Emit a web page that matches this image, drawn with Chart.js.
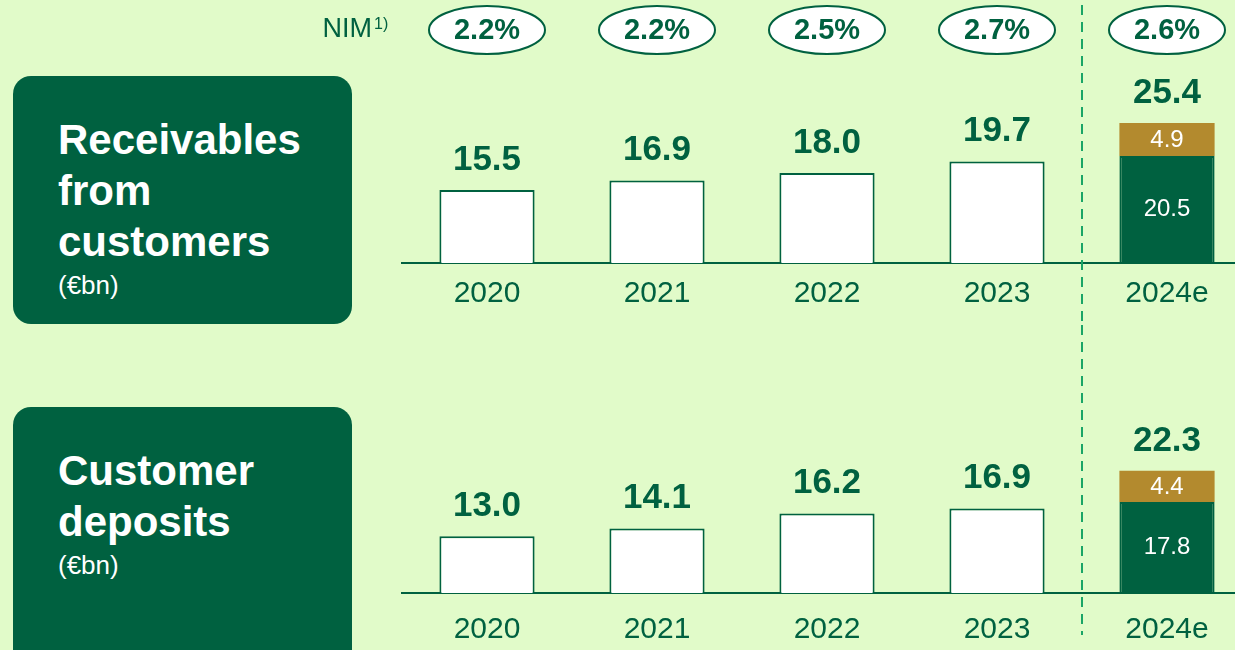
<!DOCTYPE html>
<html lang="en">
<head>
<meta charset="UTF-8">
<title>Receivables and deposits</title>
<script src="https://cdn.jsdelivr.net/npm/chart.js"></script>
<style>
  html, body { margin: 0; padding: 0; }
  body {
    width: 1235px; height: 650px; overflow: hidden; position: relative;
    background: #e1fbc9;
    font-family: "Liberation Sans", Arial, sans-serif;
  }
  .box {
    position: absolute; left: 13px; width: 294px;
    background: #006140; color: #fff; border-radius: 18px;
    padding: 38px 0 0 45px; box-sizing: content-box;
  }
  .box .title { font-weight: bold; font-size: 42px; line-height: 51px; }
  .box .unit { font-size: 26px; line-height: 36px; }
  #boxTop { top: 76px; height: 210px; }
  #boxBottom { top: 407px; height: 230px; }
  canvas { position: absolute; left: 300px; }
  #topChart { top: 0; }
  #bottomChart { top: 325px; }
</style>
</head>
<body>
  <div class="box" id="boxTop">
    <div class="title">Receivables<br>from<br>customers</div>
    <div class="unit">(€bn)</div>
  </div>
  <div class="box" id="boxBottom">
    <div class="title">Customer<br>deposits</div>
    <div class="unit">(€bn)</div>
  </div>

  <canvas id="topChart" width="952" height="325"></canvas>
  <canvas id="bottomChart" width="952" height="345"></canvas>

<script>
const years = ['2020', '2021', '2022', '2023', '2024e'];
const nim = ['2.2%', '2.2%', '2.5%', '2.7%', '2.6%'];

const recvBase = [15.5, 16.9, 18.0, 19.7, 20.5];
const recvExtra = [null, null, null, null, 4.9];
const recvTotals = [15.5, 16.9, 18.0, 19.7, 25.4];

const depBase = [13.0, 14.1, 16.2, 16.9, 17.8];
const depExtra = [null, null, null, null, 4.4];
const depTotals = [13.0, 14.1, 16.2, 16.9, 22.3];

const DARK = '#006140';
const GOLD = '#b38a2e';
const DASH = '#1aa566';
const FONT = '"Liberation Sans", Arial, sans-serif';

// value labels above bars + white labels inside the 2024e stack
const valueLabels = {
    id: 'valueLabels',
    afterDatasetsDraw(chart, args, opts) {
        const ctx = chart.ctx;
        const base = chart.getDatasetMeta(0).data;
        const add = chart.getDatasetMeta(1).data;
        const bottom = chart.chartArea.bottom;
        ctx.save();
        ctx.textAlign = 'center';
        ctx.textBaseline = 'middle';
        opts.totals.forEach((t, i) => {
            const hasExtra = opts.extra[i] != null;
            const top = hasExtra ? add[i].y : base[i].y;
            ctx.font = 'bold 35px ' + FONT;
            ctx.fillStyle = DARK;
            ctx.fillText(t.toFixed(1), base[i].x, top - 30);
            if (hasExtra) {
                ctx.font = '24px ' + FONT;
                ctx.fillStyle = '#fff';
                const b = Math.min(base[i].base, bottom);
                ctx.fillText(opts.base[i].toFixed(1), base[i].x, (base[i].y + b) / 2);
                ctx.fillText(opts.extra[i].toFixed(1), add[i].x, (add[i].y + add[i].base) / 2 + 1);
            }
        });
        ctx.restore();
    }
};

// dashed separator between actuals and estimate
const separator = {
    id: 'separator',
    beforeDatasetsDraw(chart, args, opts) {
        const ctx = chart.ctx;
        const xs = chart.scales.x;
        const x = (xs.getPixelForValue(3) + xs.getPixelForValue(4)) / 2;
        ctx.save();
        ctx.strokeStyle = DASH;
        ctx.lineWidth = 2;
        ctx.setLineDash([10, 7]);
        ctx.beginPath();
        ctx.moveTo(x, opts.from);
        ctx.lineTo(x, opts.to);
        ctx.stroke();
        ctx.restore();
    }
};

// NIM row with ellipses
const nimRow = {
    id: 'nimRow',
    afterDraw(chart) {
        const ctx = chart.ctx;
        const xs = chart.scales.x;
        const y = 30;
        ctx.save();
        ctx.fillStyle = DARK;
        ctx.textBaseline = 'middle';
        ctx.textAlign = 'right';
        ctx.font = '27px ' + FONT;
        ctx.fillText('NIM', 72, y);
        ctx.textAlign = 'left';
        ctx.font = '16px ' + FONT;
        ctx.fillText('1)', 74, y - 5);
        nim.forEach((v, i) => {
            const x = xs.getPixelForValue(i);
            ctx.beginPath();
            ctx.ellipse(x, y, 58, 24, 0, 0, Math.PI * 2);
            ctx.fillStyle = '#fff';
            ctx.fill();
            ctx.lineWidth = 2;
            ctx.strokeStyle = DARK;
            ctx.stroke();
            ctx.fillStyle = DARK;
            ctx.textAlign = 'center';
            ctx.font = 'bold 29px ' + FONT;
            ctx.fillText(v, x, y + 1);
        });
        ctx.restore();
    }
};

function makeChart(id, base, extra, totals, yMin, yMax, tickPad, padTop, padBottom, sepFrom, sepTo, plugins) {
    return new Chart(document.getElementById(id), {
        type: 'bar',
        data: {
            labels: years,
            datasets: [{
                data: base,
                backgroundColor: ['#fff', '#fff', '#fff', '#fff', DARK],
                borderColor: DARK,
                borderWidth: 2,
                categoryPercentage: 1,
                barPercentage: 0.56
            }, {
                data: extra,
                backgroundColor: GOLD,
                borderWidth: 0,
                categoryPercentage: 1,
                barPercentage: 0.56
            }]
        },
        options: {
            responsive: false,
            animation: false,
            layout: { padding: { left: 102, right: 0, top: padTop, bottom: padBottom } },
            plugins: {
                legend: { display: false },
                tooltip: { enabled: false },
                valueLabels: { totals: totals, base: base, extra: extra },
                separator: { from: sepFrom, to: sepTo }
            },
            scales: {
                x: {
                    stacked: true,
                    grid: { display: false, drawTicks: false },
                    border: { display: true, color: DARK, width: 2 },
                    ticks: {
                        color: DARK, padding: tickPad, maxRotation: 0, autoSkip: false,
                        font: { family: FONT, size: 30 }
                    }
                },
                y: {
                    stacked: true, display: false,
                    min: yMin, max: yMax
                }
            }
        },
        plugins: plugins
    });
}

makeChart('topChart', recvBase, recvExtra, recvTotals, 4.7, 34.7, 13, 60, 0, 5, 325,
    [valueLabels, separator, nimRow]);
makeChart('bottomChart', depBase, depExtra, depTotals, 5.0, 28.66, 19, 100, 3, 0, 310,
    [valueLabels, separator]);
</script>
</body>
</html>
